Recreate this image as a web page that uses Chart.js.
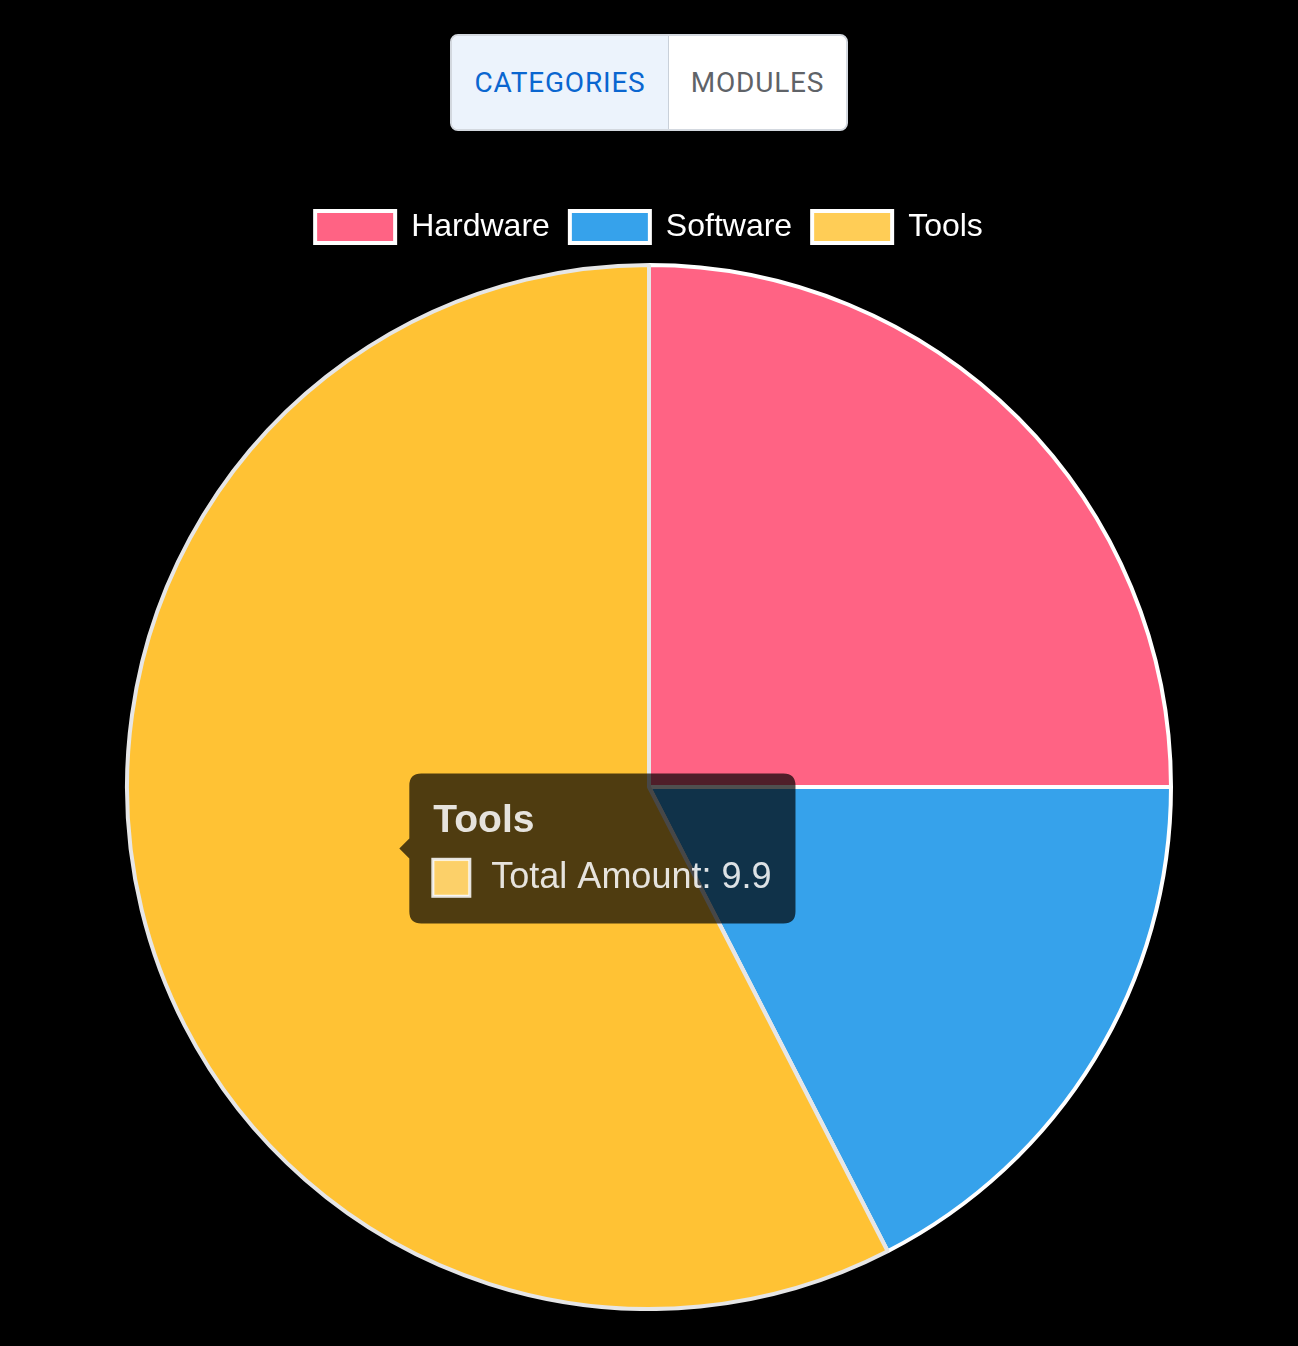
<!DOCTYPE html>
<html>
<head>
<meta charset="utf-8">
<script src="https://cdn.jsdelivr.net/npm/chart.js@4.4.1/dist/chart.umd.min.js"></script>
<style>
  html, body { margin: 0; padding: 0; background: #000; width: 1298px; height: 1346px; overflow: hidden; }
  .toggle {
    position: absolute; left: 450px; top: 34px; width: 398px; height: 97px;
    box-sizing: border-box; border: 2px solid #d3d8df; border-radius: 8px; overflow: hidden;
    display: flex; background: #fff;
  }
  .toggle button {
    border: none; margin: 0; padding: 0; height: 100%;
    font-family: Roboto, sans-serif; font-size: 28px; font-weight: 400; letter-spacing: 0.8px;
    text-transform: uppercase; cursor: pointer;
  }
  .toggle .active { width: 217px; background: #ecf3fc; color: #0a66d0; border-right: 1px solid #c9d0d9; }
  .toggle .idle { flex: 1; background: #fff; color: #5f6368; }
  #wrap { position: absolute; left: 0; top: 191px; width: 1298px; height: 1120px; }
</style>
</head>
<body>
<div class="toggle">
  <button class="active">Categories</button>
  <button class="idle">Modules</button>
</div>
<div id="wrap"><canvas id="c" width="1298" height="1120" style="width:1298px;height:1120px;"></canvas></div>
<script>
const categories = ['Hardware', 'Software', 'Tools'];
const totalAmounts = [4.3, 3.0, 9.9];
const sliceColors = ['#ff6384', '#36a2eb', '#ffcd56'];
const seriesLabel = 'Total Amount';
const activeIndex = 2;

function fade(hex, a) {
  const n = parseInt(hex.slice(1), 16);
  return 'rgba(' + ((n >> 16) & 255) + ',' + ((n >> 8) & 255) + ',' + (n & 255) + ',' + a + ')';
}

const legendGap = {
  id: 'legendGap',
  beforeInit(chart) {
    const lg = chart.legend;
    if (!lg) return;
    const fit = lg.fit;
    lg.fit = function () { fit.call(this); this.height += 10; };
  }
};

const chart = new Chart(document.getElementById('c'), {
  type: 'pie',
  data: {
    labels: categories,
    datasets: [{
      label: seriesLabel,
      data: totalAmounts,
      backgroundColor: sliceColors,
      borderColor: '#ffffff',
      borderWidth: 4,
      hoverOffset: 0
    }]
  },
  options: {
    responsive: false,
    animation: false,
    layout: { padding: 0 },
    plugins: {
      legend: {
        position: 'top',
        labels: { color: '#ffffff', font: { size: 32 }, boxWidth: 80, boxHeight: 32, padding: 20 }
      },
      tooltip: {
        backgroundColor: 'rgba(0,0,0,0.69)',
        titleColor: 'rgba(255,255,255,0.86)',
        bodyColor: 'rgba(255,255,255,0.86)',
        titleFont: { size: 39, weight: 'bold' },
        bodyFont: { size: 36 },
        padding: 24,
        caretSize: 10,
        caretPadding: 4,
        cornerRadius: 12,
        titleMarginBottom: 12,
        boxPadding: 20,
        multiKeyBackground: 'rgba(255,255,255,0.86)',
        callbacks: {
          title: (items) => categories[items[0].dataIndex],
          label: (ctx) => seriesLabel + ': ' + ctx.formattedValue,
          labelColor: (ctx) => ({
            borderColor: 'rgba(255,255,255,0.86)',
            backgroundColor: fade(sliceColors[ctx.dataIndex], 0.86),
            borderWidth: 4
          })
        }
      }
    }
  },
  plugins: [legendGap]
});

chart.setActiveElements([{ datasetIndex: 0, index: activeIndex }]);
chart.tooltip.setActiveElements([{ datasetIndex: 0, index: activeIndex }], { x: 400, y: 849 });
chart.update();
</script>
</body>
</html>
